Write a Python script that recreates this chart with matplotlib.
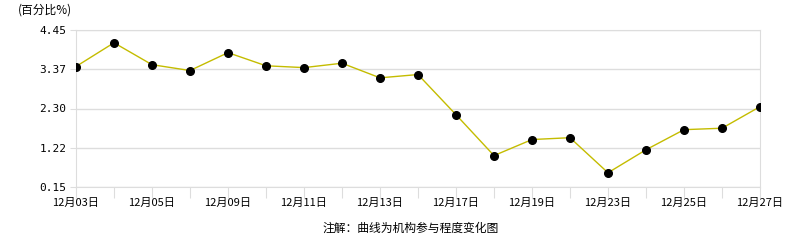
import matplotlib
matplotlib.use("Agg")
import matplotlib.pyplot as plt

plt.rcParams['font.family'] = ['Noto Sans CJK SC', 'DejaVu Sans']

# 机构参与程度 (百分比%)
values = [3.45, 4.10, 3.50, 3.34, 3.83, 3.47, 3.42, 3.54, 3.14, 3.23,
          2.13, 1.01, 1.45, 1.50, 0.54, 1.17, 1.72, 1.76, 2.35]
tick_labels = ['12月03日', '', '12月05日', '', '12月09日', '', '12月11日', '',
               '12月13日', '', '12月17日', '', '12月19日', '', '12月23日', '',
               '12月25日', '', '12月27日']
y_ticks = [0.15, 1.22, 2.30, 3.37, 4.45]
y_tick_labels = ['0.15', '1.22', '2.30', '3.37', '4.45']

fig = plt.figure(figsize=(7.86, 2.4), dpi=100)
ax = fig.add_axes([76/786, 1 - 187/240, (760 - 76)/786, (187 - 30)/240])

xs = list(range(len(values)))
ax.plot(xs, values, color='#c4bc00', lw=1.0, zorder=3)
ax.plot(xs, values, 'o', color='black', ms=5.5, zorder=4)

ax.set_xlim(0, len(values) - 1)
ax.set_ylim(0.15, 4.45)
ax.set_xticks(xs)
ax.set_xticklabels(tick_labels, fontsize=8)
ax.set_yticks(y_ticks)
ax.set_yticklabels(y_tick_labels, fontsize=8, family='DejaVu Sans Mono')
ax.grid(axis='y', color='#dddddd', lw=1)
for s in ax.spines.values():
    s.set_color('#dddddd')
ax.tick_params(axis='x', length=8, color='#dddddd', pad=0)
ax.tick_params(axis='y', length=4, color='#dddddd', pad=3)

fig.text(18/786, 1 - 10/240, '(百分比%)', fontsize=8.5, va='center', ha='left')
fig.text(411/786, 1 - 228/240, '注解：曲线为机构参与程度变化图', fontsize=8.5,
         va='center', ha='center')

fig.savefig('out.png', dpi=100)
